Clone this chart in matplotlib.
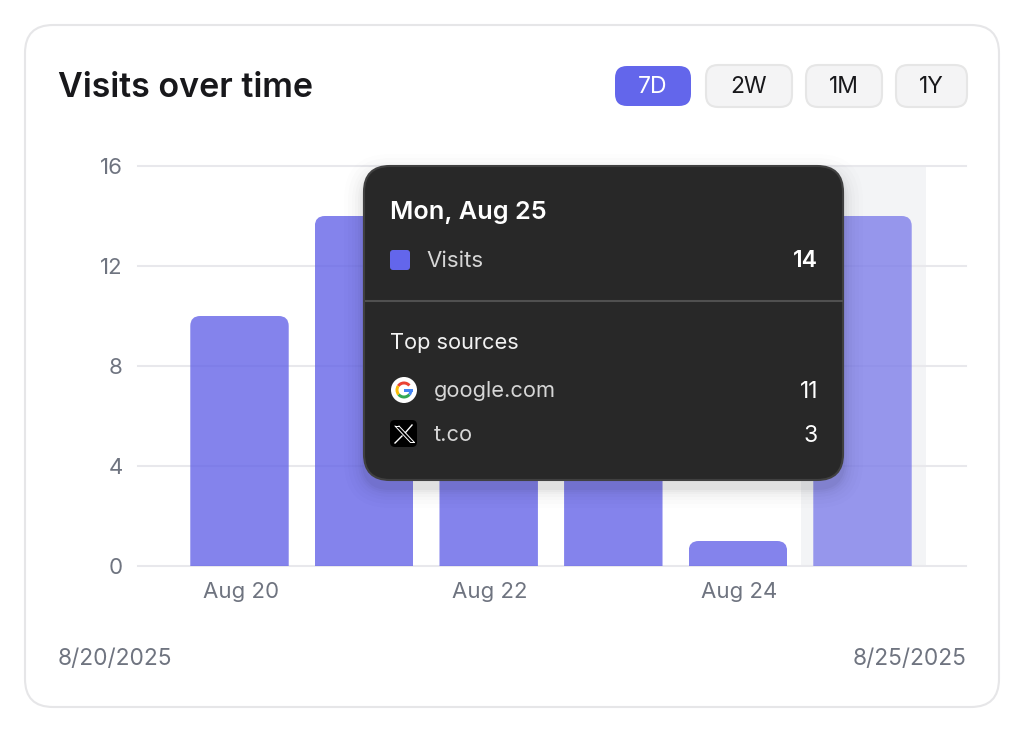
import matplotlib
matplotlib.use("Agg")
import matplotlib.pyplot as plt
from matplotlib.patches import FancyBboxPatch, Wedge, Circle, PathPatch, Rectangle
from matplotlib.path import Path
from matplotlib.transforms import ScaledTranslation

plt.rcParams['font.family'] = ['Inter', 'DejaVu Sans']

W, H = 1024, 734

days = ["Aug 20", "Aug 21", "Aug 22", "Aug 23", "Aug 24", "Aug 25"]
visits = [10, 14, 12, 9, 1, 14]   # Aug 22 / Aug 23 tops are hidden by the tooltip
y_ticks = [0, 4, 8, 12, 16]
x_ticks = [0, 2, 4]
ranges = ["7D", "2W", "1M", "1Y"]
sources = ["google.com", "t.co"]
source_counts = [11, 3]
start_label = "8/20/2025"
end_label = "8/25/2025"

GRID = "#E8E8EC"
MUTED = "#6F7480"


def rounded(ax, x0, y0, x1, y1, r, **kw):
    p = FancyBboxPatch((x0 + r, y0 + r), x1 - x0 - 2 * r, y1 - y0 - 2 * r,
                       boxstyle=f"round,pad={r},rounding_size={r}", **kw)
    ax.add_patch(p)
    return p


def round_top(ax, rect, rx, ry):
    # clip a bar so that only its top corners are round
    x0, x1 = rect.get_x(), rect.get_x() + rect.get_width()
    y1 = rect.get_height()
    ry = min(ry, y1)
    verts = [(x0, 0), (x0, y1 - ry), (x0, y1), (x0 + rx, y1),
             (x1 - rx, y1), (x1, y1), (x1, y1 - ry), (x1, 0), (x0, 0)]
    codes = [Path.MOVETO, Path.LINETO, Path.CURVE3, Path.CURVE3,
             Path.LINETO, Path.CURVE3, Path.CURVE3, Path.LINETO, Path.CLOSEPOLY]
    rect.set_clip_path(PathPatch(Path(verts, codes), transform=ax.transData))


def px_axes(fig, z):
    a = fig.add_axes([0, 0, 1, 1], zorder=z)
    a.set_xlim(0, W)
    a.set_ylim(H, 0)
    a.axis("off")
    a.patch.set_alpha(0)
    return a


def label(ax, x, y, s, **kw):
    # the font sits a little high when centred, push it down
    kw.setdefault("va", "center")
    return ax.text(x, y + 2, s, **kw)


fig = plt.figure(figsize=(W / 100, H / 100), dpi=100, facecolor="white")

# card, header, footer
bg = px_axes(fig, 0)
rounded(bg, 25, 25, 999, 707, 28, fc="white", ec="#E6E6E8", lw=1.5)
label(bg, 58, 86, "Visits over time", fontsize=24.5, fontweight="semibold", color="#18181B", ha="left")
label(bg, 58, 657, start_label, fontsize=16.3, color=MUTED, ha="left")
label(bg, 966, 657, end_label, fontsize=16.3, color=MUTED, ha="right")

btn_x = [(615, 691), (706, 792), (806, 882), (896, 967)]
for i, (name, (x0, x1)) in enumerate(zip(ranges, btn_x)):
    if i == 0:
        rounded(bg, x0, 66, x1, 106, 12, fc="#6366EB", ec="none")
        col = "white"
    else:
        rounded(bg, x0, 65, x1, 107, 12, fc="#F4F4F5", ec="#E6E6E6", lw=1.5)
        col = "#18181B"
    label(bg, (x0 + x1) / 2, 85, name, fontsize=16.5, color=col, ha="center")

# chart
left, right, top, bottom = 138, 966, 166, 566
ax = fig.add_axes([left / W, 1 - bottom / H, (right - left) / W, (bottom - top) / H], zorder=1)
ax.patch.set_alpha(0)
step = 124.6
first = 239.5
ax.set_xlim((left - first) / step, (right - first) / step)
ax.set_ylim(0, 16)
ax.axvspan(4.51, 5.51, color="#F3F4F6", lw=0, zorder=0)
ax.set_yticks(y_ticks)
ax.set_xticks(x_ticks)
ax.set_xticklabels([days[i] for i in x_ticks])
ax.tick_params(length=0, labelsize=16, labelcolor=MUTED)
ax.tick_params(axis="y", pad=11)
ax.tick_params(axis="x", pad=11.5)
ax.grid(axis="y", color=GRID, lw=1.5, zorder=1, clip_on=False)
ax.set_axisbelow(True)
for s in ax.spines.values():
    s.set_visible(False)
for t in ax.get_xticklabels():
    t.set_transform(t.get_transform() + ScaledTranslation(1.5 / 100, 0, fig.dpi_scale_trans))

bars = ax.bar(range(len(visits)), visits, width=0.79, color="#6564E8", alpha=0.8, lw=0, zorder=2)
bars[-1].set_alpha(0.65)
for b in bars:
    round_top(ax, b, 10 / step, 10 * 16 / (bottom - top))

# tooltip
tip = px_axes(fig, 2)
for grow, alpha in [(20, .008), (16, .01), (12, .012), (9, .016), (6, .02), (4, .024), (2, .03)]:
    rounded(tip, 364 - grow, 166 - grow + 8, 843 + grow, 480 + grow + 8, 26 + grow, fc="black", ec="none", alpha=alpha)
rounded(tip, 364, 166, 843, 480, 26, fc="#282828", ec="#404040", lw=1.5)
tip.plot([366, 842], [301, 301], color="#505050", lw=1.5)

label(tip, 390, 211, "Mon, Aug 25", fontsize=18.2, fontweight="semibold", color="white")
rounded(tip, 390, 250, 410, 270, 3, fc="#6366EB", ec="none")
label(tip, 426, 259, "Visits", fontsize=16, color="#D6D6D6")
label(tip, 818, 259, str(visits[-1]), fontsize=16.5, fontweight="semibold", color="white", ha="right")
label(tip, 390, 341, "Top sources", fontsize=15.7, color="#F2F2F2")

for name, n, y in zip(sources, source_counts, [389, 433]):
    label(tip, 434, y, name, fontsize=15.7, color="#D6D6D6")
    label(tip, 818, y + 1, str(n), fontsize=16.5, color="white", ha="right")

# google icon, y axis is flipped so wedge angles run clockwise on screen
gx, gy = 404, 390
tip.add_patch(Circle((gx, gy), 13, fc="white", ec="none"))
for a0, a1, c in [(215, 320, "#EA4335"), (140, 215, "#FBBC05"), (40, 140, "#34A853"), (0, 40, "#4285F4")]:
    tip.add_patch(Wedge((gx, gy), 8.5, a0, a1, width=3, fc=c, ec="none"))
tip.add_patch(Rectangle((gx, gy - 1.5), 8.5, 3, fc="#4285F4", ec="none"))

# x icon
rounded(tip, 390, 420, 417, 447, 5, fc="black", ec="none")
tip.plot([395, 410], [426, 442], color="white", lw=0.7)
tip.plot([399, 414], [426, 442], color="white", lw=0.7)
tip.plot([395, 399], [426, 426], color="white", lw=0.7)
tip.plot([410, 414], [442, 442], color="white", lw=0.7)
tip.plot([412, 405.5], [425, 432.5], color="white", lw=1)
tip.plot([402, 395], [436, 443], color="white", lw=1)

fig.savefig("out.png", dpi=100)
